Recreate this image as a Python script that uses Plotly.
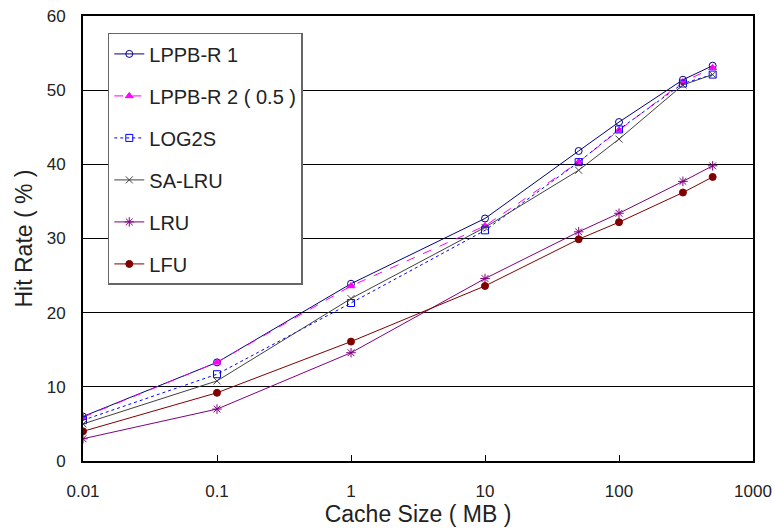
import plotly.graph_objects as go

cache_sizes = [0.01, 0.1, 1, 10, 50, 100, 300, 500]
lppb_r1 = [6.0, 13.3, 23.9, 32.7, 41.8, 45.7, 51.4, 53.3]
lppb_r2 = [5.9, 13.3, 23.6, 31.7, 40.3, 44.6, 51.1, 53.0]
log2s = [5.5, 11.7, 21.3, 31.1, 40.3, 44.7, 50.9, 52.1]
sa_lru = [5.0, 10.8, 21.9, 31.5, 39.2, 43.4, 50.7, 52.1]
lru = [3.0, 7.0, 14.6, 24.6, 30.9, 33.4, 37.7, 39.8]
lfu = [4.0, 9.2, 16.1, 23.6, 29.9, 32.2, 36.2, 38.3]

x_tickvals = [0.01, 0.1, 1, 10, 100, 1000]
x_ticktext = ["0.01", "0.1", "1", "10", "100", "1000"]

series = [
    ("LPPB-R 1", lppb_r1, "#000080", "solid", "circle-open", 7),
    ("LPPB-R 2 ( 0.5 )", lppb_r2, "#FF00FF", "dash", "triangle-up", 7),
    ("LOG2S", log2s, "#0000FF", "dot", "square-open", 7),
    ("SA-LRU", sa_lru, "#404040", "solid", "x-thin-open", 7),
    ("LRU", lru, "#800080", "solid", "asterisk-open", 8),
    ("LFU", lfu, "#800000", "solid", "circle", 7),
]

fig = go.Figure()
for i, (name, vals, color, dash, sym, size) in enumerate(series):
    fig.add_trace(go.Scatter(
        x=cache_sizes, y=vals, name=name, mode="lines+markers",
        line=dict(color=color, width=1, dash=dash),
        marker=dict(symbol=sym, size=size, color=color,
                    line=dict(color=color, width=1)),
        legendgroup=f"g{i}",
    ))

font_family = "Liberation Sans, Arial, sans-serif"
fig.update_layout(
    width=775, height=529,
    margin=dict(l=83, r=22, t=16, b=68),
    paper_bgcolor="white", plot_bgcolor="white",
    font=dict(family=font_family, size=17, color="#222"),
    showlegend=True,
    legend=dict(
        x=0.037, y=0.962, xanchor="left", yanchor="top",
        bgcolor="white", bordercolor="#666", borderwidth=1.5,
        font=dict(size=20, color="#222"),
        tracegroupgap=13,
    ),
    xaxis=dict(
        type="log", range=[-2, 3], automargin=False,
        tickvals=x_tickvals, ticktext=x_ticktext,
        ticks="inside", ticklen=6, tickcolor="black",
        showgrid=False, zeroline=False,
        showline=True, linecolor="black", linewidth=2, mirror=True,
        ticklabelstandoff=14,
        title=dict(text="Cache Size ( MB )", font=dict(size=23), standoff=4),
    ),
    yaxis=dict(
        range=[0, 60], dtick=10, automargin=False,
        showgrid=True, gridcolor="black", gridwidth=1,
        zeroline=False, ticks="",
        showline=True, linecolor="black", linewidth=2, mirror=True,
        ticklabelstandoff=12,
        title=dict(text="Hit Rate ( % )", font=dict(size=23), standoff=8),
    ),
)

fig.write_html("out.html")
